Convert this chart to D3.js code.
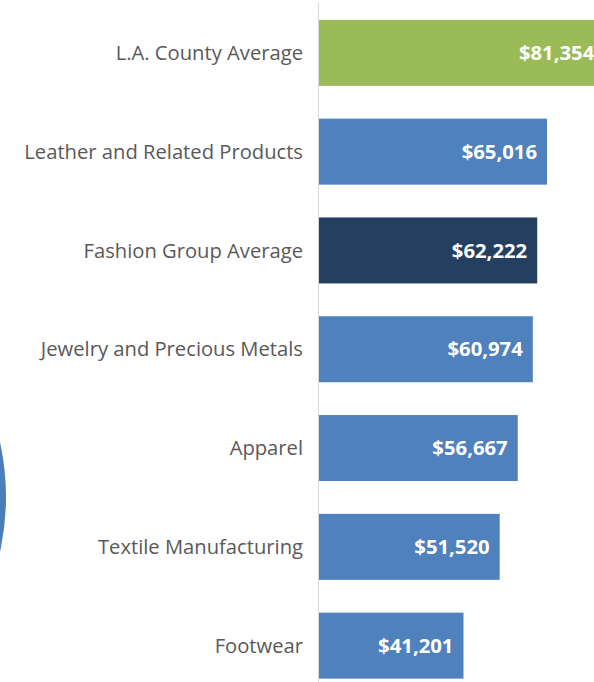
<!DOCTYPE html>
<html>
<head>
<meta charset="utf-8">
<script src="https://cdn.jsdelivr.net/npm/d3@7"></script>
<style>
  body { margin: 0; background: #fff; }
  svg { display: block; }
</style>
</head>
<body>
<div id="canvas"></div>
<script>
// ////////// DATA /////////////
var categories = [
  "L.A. County Average",
  "Leather and Related Products",
  "Fashion Group Average",
  "Jewelry and Precious Metals",
  "Apparel",
  "Textile Manufacturing",
  "Footwear"
]
var wages = [81354, 65016, 62222, 60974, 56667, 51520, 41201]
var kinds = ["county", "industry", "group", "industry", "industry", "industry", "industry"]

var data = categories.map((c, i) => ({ name: c, wage: wages[i], kind: kinds[i] }))

///////// GLOBAL VARS //////////
var width = 594,
  height = 682,
  axisX = 319;

var svg = d3.select("#canvas")
  .append("svg")
  .attr("width", width)
  .attr("height", height)

// decorative circle edge on the left
svg.append("circle")
  .attr("cx", -247)
  .attr("cy", 497)
  .attr("r", 253)
  .attr("fill", "#4a7ebb")

// X scale (wage)
var x = d3.scaleLinear()
  .domain([0, 90000])
  .range([axisX, axisX + 90000 * 0.003507])

// Y scale (categories)
var y = d3.scaleBand()
  .domain(categories)
  .range([8, 690.5])
  .paddingInner(0.332)
  .paddingOuter(0.12)

var color = d3.scaleOrdinal()
  .domain(["county", "industry", "group"])
  .range(["#9bbb59", "#4f81bd", "#243f60"])

// bars
svg.selectAll("rect.bar")
  .data(data)
  .join("rect")
  .attr("class", "bar")
  .attr("x", x(0))
  .attr("y", d => y(d.name))
  .attr("width", d => x(d.wage) - x(0))
  .attr("height", y.bandwidth())
  .attr("fill", d => color(d.kind))

// axis line
svg.append("line")
  .attr("x1", axisX - 0.5)
  .attr("x2", axisX - 0.5)
  .attr("y1", 3)
  .attr("y2", height)
  .attr("stroke", "#d9d9d9")
  .attr("stroke-width", 1)

// category labels
svg.selectAll("text.cat")
  .data(data)
  .join("text")
  .attr("class", "cat")
  .attr("x", 303)
  .attr("y", d => y(d.name) + y.bandwidth() / 2)
  .attr("dy", "0.35em")
  .attr("text-anchor", "end")
  .attr("font-family", "Open Sans, sans-serif")
  .attr("font-size", 20.2)
  .attr("fill", "#595959")
  .text(d => d.name)

// value labels
var fmt = d3.format(",")
svg.selectAll("text.val")
  .data(data)
  .join("text")
  .attr("class", "val")
  .attr("x", d => x(d.wage) - 10)
  .attr("y", d => y(d.name) + y.bandwidth() / 2)
  .attr("dy", "0.35em")
  .attr("text-anchor", "end")
  .attr("font-family", "Open Sans, sans-serif")
  .attr("font-weight", "bold")
  .attr("font-size", 20.3)
  .attr("fill", "#ffffff")
  .text(d => "$" + fmt(d.wage))
</script>
</body>
</html>
